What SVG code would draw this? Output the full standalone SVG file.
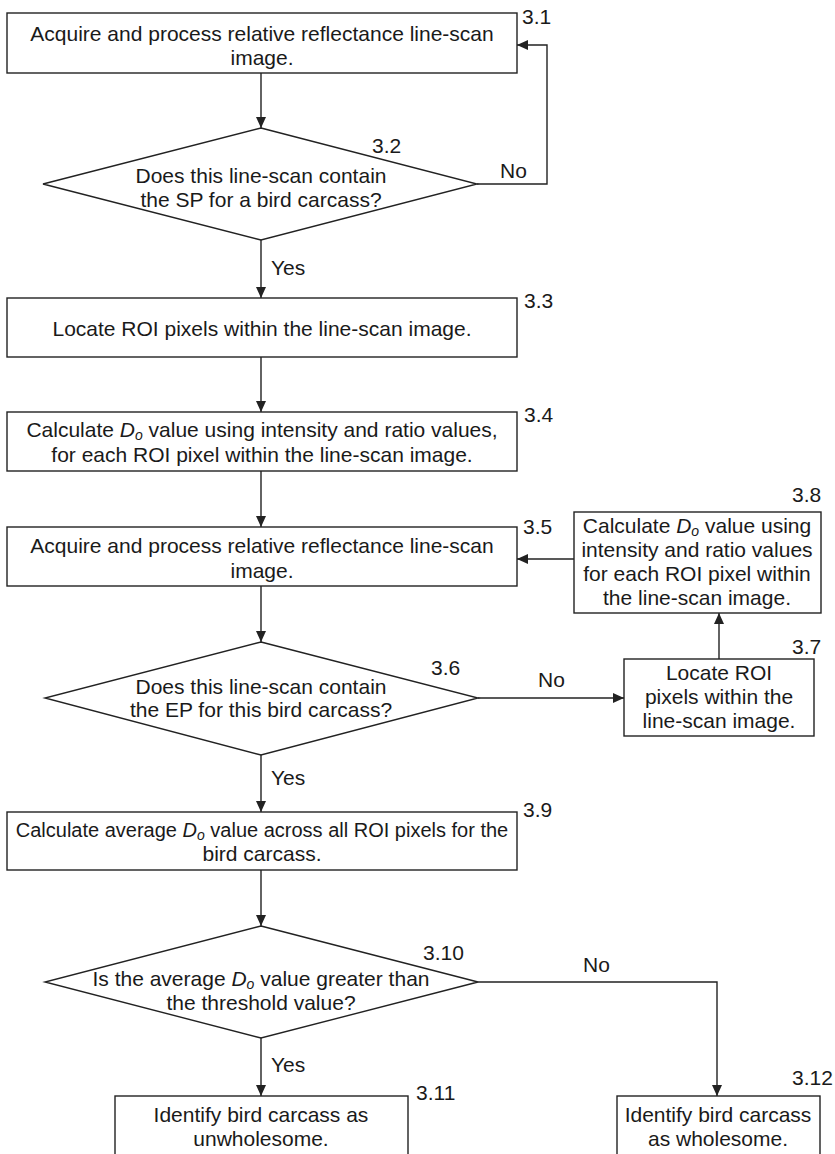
<svg xmlns="http://www.w3.org/2000/svg" width="835" height="1154" viewBox="0 0 835 1154">
<style>
.n{fill:#fff;stroke:#222;stroke-width:1.4}
.t{font-family:"Liberation Sans",Arial,sans-serif;font-size:21px;fill:#1a1a1a;text-anchor:middle}
.l{font-family:"Liberation Sans",Arial,sans-serif;font-size:21px;fill:#1a1a1a}
.c{fill:none;stroke:#222;stroke-width:1.4}
.i{font-style:italic}
.s{font-style:italic;font-size:14px}
</style>
<defs>
<marker id="ah" markerWidth="12" markerHeight="10" refX="11" refY="5" orient="auto" markerUnits="userSpaceOnUse">
<path d="M0,0 L11,5 L0,10 Z" fill="#222"/>
</marker>
</defs>
<rect width="835" height="1154" fill="#fff"/>
<g id="connectors">
<line class="c" x1="261" y1="73" x2="261" y2="128" marker-end="url(#ah)"/>
<polyline class="c" points="477,184 547,184 547,45 517,45" marker-end="url(#ah)"/>
<line class="c" x1="261" y1="240" x2="261" y2="298" marker-end="url(#ah)"/>
<line class="c" x1="261" y1="357" x2="261" y2="412" marker-end="url(#ah)"/>
<line class="c" x1="261" y1="471" x2="261" y2="527" marker-end="url(#ah)"/>
<line class="c" x1="261" y1="586" x2="261" y2="642" marker-end="url(#ah)"/>
<line class="c" x1="478" y1="698" x2="624" y2="698" marker-end="url(#ah)"/>
<line class="c" x1="719" y1="659" x2="719" y2="613" marker-end="url(#ah)"/>
<line class="c" x1="574" y1="559" x2="517" y2="559" marker-end="url(#ah)"/>
<line class="c" x1="261" y1="755" x2="261" y2="812" marker-end="url(#ah)"/>
<line class="c" x1="261" y1="870" x2="261" y2="926" marker-end="url(#ah)"/>
<polyline class="c" points="478,982 717,982 717,1096" marker-end="url(#ah)"/>
<line class="c" x1="261" y1="1038" x2="261" y2="1096" marker-end="url(#ah)"/>
<text class="l" x="500" y="178">No</text>
<text class="l" x="271" y="275">Yes</text>
<text class="l" x="538" y="687">No</text>
<text class="l" x="271" y="785">Yes</text>
<text class="l" x="583" y="972">No</text>
<text class="l" x="271" y="1072">Yes</text>
</g>
<g id="n3_1">
<rect class="n" x="7" y="13" width="510" height="60"/>
<text class="t" x="262" y="40.5">Acquire and process relative reflectance line-scan</text>
<text class="t" x="262" y="64.5">image.</text>
<text class="l" x="522" y="24">3.1</text>
</g>
<g id="n3_2">
<polygon class="n" points="261,128 477,184 261,240 43,184"/>
<text class="t" x="261" y="182.5">Does this line-scan contain</text>
<text class="t" x="261" y="206.5">the SP for a bird carcass?</text>
<text class="l" x="372" y="153">3.2</text>
</g>
<g id="n3_3">
<rect class="n" x="7" y="298" width="510" height="59"/>
<text class="t" x="262" y="335.5">Locate ROI pixels within the line-scan image.</text>
<text class="l" x="524" y="308">3.3</text>
</g>
<g id="n3_4">
<rect class="n" x="7" y="412" width="510" height="59"/>
<text class="t" x="262" y="436.5">Calculate <tspan class="i">D</tspan><tspan class="s" dy="3">o</tspan><tspan dy="-3"> value using intensity and ratio values,</tspan></text>
<text class="t" x="262" y="461.5">for each ROI pixel within the line-scan image.</text>
<text class="l" x="524" y="422">3.4</text>
</g>
<g id="n3_5">
<rect class="n" x="7" y="527" width="510" height="59"/>
<text class="t" x="262" y="552.5">Acquire and process relative reflectance line-scan</text>
<text class="t" x="262" y="577.5">image.</text>
<text class="l" x="523" y="534">3.5</text>
</g>
<g id="n3_6">
<polygon class="n" points="261,642 478,698 261,755 45,698"/>
<text class="t" x="261" y="693.5">Does this line-scan contain</text>
<text class="t" x="261" y="716.5">the EP for this bird carcass?</text>
<text class="l" x="431" y="675">3.6</text>
</g>
<g id="n3_7">
<rect class="n" x="624" y="659" width="190" height="77"/>
<text class="t" x="719" y="679.5">Locate ROI</text>
<text class="t" x="719" y="703.5">pixels within the</text>
<text class="t" x="719" y="727.5">line-scan image.</text>
<text class="l" x="792" y="654">3.7</text>
</g>
<g id="n3_8">
<rect class="n" x="574" y="512" width="247" height="101"/>
<text class="t" x="697" y="532.5">Calculate <tspan class="i">D</tspan><tspan class="s" dy="3">o</tspan><tspan dy="-3"> value using</tspan></text>
<text class="t" x="697" y="556.5">intensity and ratio values</text>
<text class="t" x="697" y="580.5">for each ROI pixel within</text>
<text class="t" x="697" y="604.5">the line-scan image.</text>
<text class="l" x="792" y="502">3.8</text>
</g>
<g id="n3_9">
<rect class="n" x="7" y="812" width="510" height="58"/>
<text class="t" x="262" y="836.5" style="font-size:20px">Calculate average <tspan class="i">D</tspan><tspan class="s" dy="3">o</tspan><tspan dy="-3"> value across all ROI pixels for the</tspan></text>
<text class="t" x="262" y="860.5">bird carcass.</text>
<text class="l" x="523" y="817">3.9</text>
</g>
<g id="n3_10">
<polygon class="n" points="261,926 478,982 261,1038 45,982"/>
<text class="t" x="261" y="985.5">Is the average <tspan class="i">D</tspan><tspan class="s" dy="3">o</tspan><tspan dy="-3"> value greater than</tspan></text>
<text class="t" x="261" y="1009.5">the threshold value?</text>
<text class="l" x="423" y="960">3.10</text>
</g>
<g id="n3_11">
<rect class="n" x="115" y="1096" width="293" height="80"/>
<text class="t" x="261" y="1121.5">Identify bird carcass as</text>
<text class="t" x="261" y="1145.5">unwholesome.</text>
<text class="l" x="416" y="1100">3.11</text>
</g>
<g id="n3_12">
<rect class="n" x="617" y="1096" width="203" height="80"/>
<text class="t" x="718" y="1121.5">Identify bird carcass</text>
<text class="t" x="718" y="1145.5">as wholesome.</text>
<text class="l" x="792" y="1085">3.12</text>
</g>
</svg>
